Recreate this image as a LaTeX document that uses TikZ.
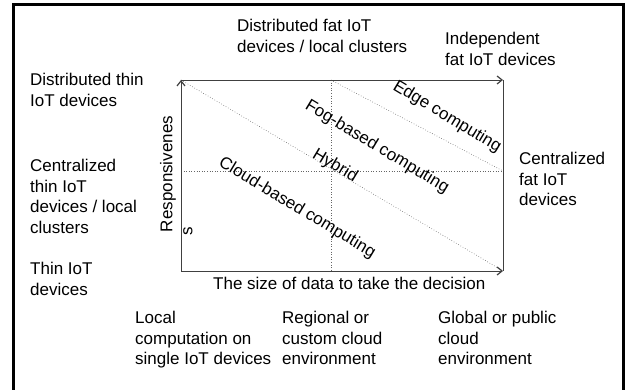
\documentclass[tikz,border=0pt]{standalone}
\usepackage{fontspec}
\setmainfont{Liberation Sans}
\usetikzlibrary{arrows.meta}
\begin{document}
\begin{tikzpicture}[x=1pt,y=-1pt,
  lbl/.style={anchor=north west,align=left,inner sep=0pt,font=\fontsize{17}{20.5}\selectfont},
  diag/.style={inner sep=0pt,font=\fontsize{17}{20.5}\selectfont,rotate=-31},
  axis/.style={draw=black!75,line width=0.8pt},
  guide/.style={draw=black!60,line width=0.6pt,dotted},
  tip/.style={-{Straight Barb[length=5pt,width=8pt,line width=1.2pt]}}]
\useasboundingbox (0,0) rectangle (625,390);
\draw[line width=3pt] (13,400) -- (13,5) -- (623,5) -- (623,400);
% corners
\coordinate (O) at (181,271);
\coordinate (TL) at (181,80);
\coordinate (TR) at (503,80);
\coordinate (BR) at (503,271);
\coordinate (MT) at (331,80);
\coordinate (MB) at (331,271);
\coordinate (ML) at (181,171);
\coordinate (MR) at (503,171);
% guides
\draw[guide] (MT) -- (MB);
\draw[guide] (ML) -- (MR);
\draw[guide] (TL) -- (BR);
\draw[guide] (MT) -- (MR);
% axes
\draw[axis] (TR) -- (BR);
\draw[axis,tip] (O) -- (TL);
\draw[axis,tip] (TL) -- (TR);
\draw[axis,tip] (O) -- (BR);
% diagonal labels
\node[diag] (edge) at (447,117) {Edge computing};
\node[diag] (fog) at (377,147) {Fog-based computing};
\node[diag] (hyb) at (335,166) {Hybrid};
\node[diag] (cloud) at (297,208) {Cloud-based computing};
% axis labels
\node[inner sep=0pt,rotate=90,font=\fontsize{17}{20.5}\selectfont] (resp) at (168,174) {Responsivenes};
\node[inner sep=0pt,rotate=90,font=\fontsize{17}{20.5}\selectfont] (s) at (188,231) {s};
\node[lbl] (xlab) at (213,277) {The size of data to take the decision};
% side labels
\node[lbl] (dthin) at (30,73) {Distributed thin\\IoT devices};
\node[lbl] (cthin) at (30,159) {Centralized\\thin IoT\\devices / local\\clusters};
\node[lbl] (thin) at (30,262) {Thin IoT\\devices};
\node[lbl] (dfat) at (237,19) {Distributed fat IoT\\devices / local clusters};
\node[lbl] (ifat) at (445,32) {Independent\\fat IoT devices};
\node[lbl] (cfat) at (519,152) {Centralized\\fat IoT\\devices};
\node[lbl] (local) at (135,311) {Local\\computation on\\single IoT devices};
\node[lbl] (reg) at (282,311) {Regional or\\custom cloud\\environment};
\node[lbl] (glob) at (438,311) {Global or public\\cloud\\environment};
\end{tikzpicture}
\end{document}
